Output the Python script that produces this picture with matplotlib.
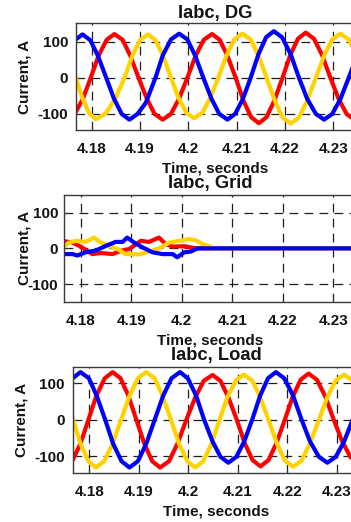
import matplotlib
matplotlib.use("Agg")
import matplotlib.pyplot as plt

# Scope traces: time in seconds, current in A.
# Phase a = red, b = yellow, c = blue.

# --- Iabc, DG ---
dg_a_t = [4.1749, 4.1765, 4.1782, 4.1798, 4.1814, 4.1831, 4.1847, 4.1864, 4.1880, 4.1897,
          4.1914, 4.1930, 4.1947, 4.1964, 4.1981, 4.1998, 4.2015, 4.2032, 4.2049, 4.2065,
          4.2081, 4.2098, 4.2114, 4.2130, 4.2146, 4.2162, 4.2178, 4.2195, 4.2211, 4.2227,
          4.2243, 4.2260, 4.2277, 4.2294, 4.2311, 4.2328, 4.2345]
dg_a = [-117, -101, -58, 0, 61, 106, 122, 106, 61, 0,
        -58, -101, -117, -101, -58, 0, 61, 106, 122, 106,
        61, 0, -64, -110, -127, -110, -64, 0, 63, 109,
        126, 109, 63, 0, -59, -102, -118]

dg_b_t = [4.1725, 4.1739, 4.1753, 4.1767, 4.1781, 4.1795, 4.1809, 4.1829, 4.1849, 4.1868,
          4.1884, 4.1900, 4.1916, 4.1932, 4.1948, 4.1964, 4.1980, 4.1996, 4.2012, 4.2029,
          4.2045, 4.2062, 4.2079, 4.2095, 4.2112, 4.2129, 4.2145, 4.2162, 4.2179, 4.2195,
          4.2212, 4.2229, 4.2246, 4.2264, 4.2281, 4.2298, 4.2315, 4.2332, 4.2349]
dg_b = [120, 104, 60, 0, -58, -100, -116, -100, -58, 0,
        61, 105, 121, 105, 61, 0, -57, -98, -113, -98,
        -57, 0, 62, 107, 123, 107, 62, 0, -64, -111,
        -128, -111, -64, 0, 62, 107, 123, 107, 62]

dg_c_t = [4.1748, 4.1765, 4.1781, 4.1797, 4.1813, 4.1830, 4.1846, 4.1862, 4.1878, 4.1895,
          4.1912, 4.1932, 4.1947, 4.1964, 4.1981, 4.1998, 4.2014, 4.2031, 4.2048, 4.2064,
          4.2081, 4.2097, 4.2113, 4.2129, 4.2145, 4.2161, 4.2177, 4.2194, 4.2212, 4.2229,
          4.2246, 4.2264, 4.2281, 4.2298, 4.2315, 4.2332, 4.2349]
dg_c = [61, 105, 121, 105, 61, 0, -58, -101, -117, -101,
        -70, 0, 62, 107, 123, 107, 62, 0, -59, -101,
        -117, -101, -59, 0, 65, 113, 130, 113, 65, 0,
        -59, -101, -117, -101, -59, 0, 60]

# --- Iabc, Grid ---
grid_a_t = [4.1764, 4.1784, 4.1800, 4.1823, 4.1840, 4.1863, 4.1879, 4.1896, 4.1919, 4.1935,
            4.1955, 4.1968, 4.1982, 4.2005, 4.2028, 4.2350]
grid_a = [21, 16, 5, -16, -13, -16, -7, -2, 21, 18,
          30, 12, 5, 6, 0, 0]

grid_b_t = [4.1764, 4.1777, 4.1790, 4.1810, 4.1826, 4.1840, 4.1856, 4.1873, 4.1889, 4.1916,
            4.1935, 4.1955, 4.1975, 4.1995, 4.2015, 4.2028, 4.2041, 4.2054, 4.2064, 4.2350]
grid_b = [3, 16, 21, 18, 30, 16, 7, -2, -16, -17,
          -9, 0, 16, 21, 26, 22, 12, 6, 0, 0]

grid_c_t = [4.1764, 4.1784, 4.1793, 4.1810, 4.1830, 4.1850, 4.1869, 4.1883, 4.1892, 4.1906,
            4.1922, 4.1942, 4.1962, 4.1982, 4.1991, 4.2005, 4.2018, 4.2031, 4.2350]
grid_c = [-16, -16, -20, -11, -6, 7, 18, 18, 30, 16,
          3, -11, -16, -16, -25, -11, -9, 0, 0]

# --- Iabc, Load ---
load_a_t = [4.1749, 4.1765, 4.1782, 4.1798, 4.1814, 4.1831, 4.1847, 4.1863, 4.1879, 4.1895,
            4.1911, 4.1927, 4.1943, 4.1961, 4.1978, 4.1996, 4.2014, 4.2031, 4.2049, 4.2065,
            4.2081, 4.2098, 4.2114, 4.2130, 4.2146, 4.2162, 4.2178, 4.2195, 4.2211, 4.2227,
            4.2243, 4.2260, 4.2277, 4.2294, 4.2311, 4.2328, 4.2345]
load_a = [-130, -113, -65, 0, 65, 113, 130, 113, 65, 0,
          -65, -113, -130, -113, -65, 0, 61, 106, 122, 106,
          61, 0, -64, -110, -127, -110, -64, 0, 63, 109,
          126, 109, 63, 0, -59, -102, -118]

load_b_t = [4.1721, 4.1736, 4.1752, 4.1767, 4.1782, 4.1798, 4.1813, 4.1830, 4.1847, 4.1864,
            4.1881, 4.1898, 4.1915, 4.1932, 4.1948, 4.1965, 4.1981, 4.1998, 4.2014, 4.2030,
            4.2047, 4.2063, 4.2079, 4.2096, 4.2112, 4.2129, 4.2145, 4.2162, 4.2179, 4.2195,
            4.2212, 4.2229, 4.2246, 4.2264, 4.2281, 4.2298, 4.2315, 4.2332, 4.2349]
load_b = [130, 113, 65, 0, -65, -113, -130, -113, -65, 0,
          65, 113, 130, 113, 65, 0, -65, -113, -130, -113,
          -65, 0, 62, 107, 123, 107, 62, 0, -64, -111,
          -128, -111, -64, 0, 62, 107, 123, 107, 62]

load_c_t = [4.1749, 4.1766, 4.1782, 4.1799, 4.1815, 4.1832, 4.1848, 4.1865, 4.1881, 4.1898,
            4.1915, 4.1932, 4.1949, 4.1966, 4.1983, 4.1999, 4.2016, 4.2032, 4.2049, 4.2065,
            4.2081, 4.2097, 4.2113, 4.2129, 4.2145, 4.2161, 4.2177, 4.2194, 4.2212, 4.2229,
            4.2246, 4.2264, 4.2281, 4.2298, 4.2315, 4.2332, 4.2349]
load_c = [63, 113, 130, 113, 65, 0, -65, -113, -130, -113,
          -65, 0, 65, 113, 130, 113, 65, 0, -59, -101,
          -117, -101, -59, 0, 65, 113, 130, 113, 65, 0,
          -59, -101, -117, -101, -59, 0, 60]

time_ticks = [4.18, 4.19, 4.20, 4.21, 4.22, 4.23]
time_tick_labels = ["4.18", "4.19", "4.2", "4.21", "4.22", "4.23"]
current_ticks = [-100, 0, 100]

PHASE_COLORS = ["#ff0000", "#ffd200", "#0000ff"]
TIME_LIM = (4.17675, 4.2345)
W, H = 351, 522

plt.rcParams.update({
    "font.family": ["Liberation Sans", "DejaVu Sans"],
    "font.weight": "bold",
    "font.size": 11,
    "axes.titleweight": "bold",
    "axes.labelweight": "bold",
    "axes.unicode_minus": False,
    "text.color": "#141414",
    "axes.labelcolor": "#141414",
    "xtick.color": "#333333",
    "ytick.color": "#333333",
    "xtick.labelcolor": "#141414",
    "ytick.labelcolor": "#141414",
})


def add_panel(fig, rect_px, title, traces, ylim, title_pad, xtick_pad, ytick_pad, ylabel_x):
    left, top, right, bottom = rect_px
    ax = fig.add_axes([left / W, 1 - bottom / H, (right - left) / W, (bottom - top) / H])
    for (t, i), color in zip(traces, PHASE_COLORS):
        ax.plot(t, i, color=color, linewidth=3.0, solid_joinstyle="round")

    ax.set_xlim(*TIME_LIM)
    ax.set_ylim(*ylim)
    ax.set_xticks(time_ticks, time_tick_labels)
    ax.set_yticks(current_ticks)
    ax.grid(True, color="#1e1e1e", linestyle=(0, (7, 5)), linewidth=0.9)
    ax.set_axisbelow(True)
    ax.tick_params(direction="in", length=3, width=0.8)
    ax.tick_params(axis="x", pad=xtick_pad)
    ax.tick_params(axis="y", pad=ytick_pad)
    for spine in ax.spines.values():
        spine.set_color("#3a3a3a")
        spine.set_linewidth(1.0)

    ax.set_title(title, pad=title_pad)
    ax.set_xlabel("Time, seconds", labelpad=4)
    ax.set_ylabel("Current, A")
    ax.yaxis.set_label_coords(ylabel_x, 0.5)
    return ax


fig = plt.figure(figsize=(W / 100, H / 100), dpi=100)

add_panel(fig, (76, 23.3, 355, 130), "Iabc, DG",
          [(dg_a_t, dg_a), (dg_b_t, dg_b), (dg_c_t, dg_c)],
          (-146, 152), title_pad=3.5, xtick_pad=8.3, ytick_pad=5.5, ylabel_x=-0.16)
add_panel(fig, (64.3, 195, 356, 301.7), "Iabc, Grid",
          [(grid_a_t, grid_a), (grid_b_t, grid_b), (grid_c_t, grid_c)],
          (-149, 149), title_pad=5, xtick_pad=9, ytick_pad=4.3, ylabel_x=-0.112)
add_panel(fig, (73.3, 367.3, 359, 473), "Iabc, Load",
          [(load_a_t, load_a), (load_b_t, load_b), (load_c_t, load_c)],
          (-145, 143), title_pad=5.5, xtick_pad=8.3, ytick_pad=6, ylabel_x=-0.158)

fig.savefig("out.png", dpi=100)
